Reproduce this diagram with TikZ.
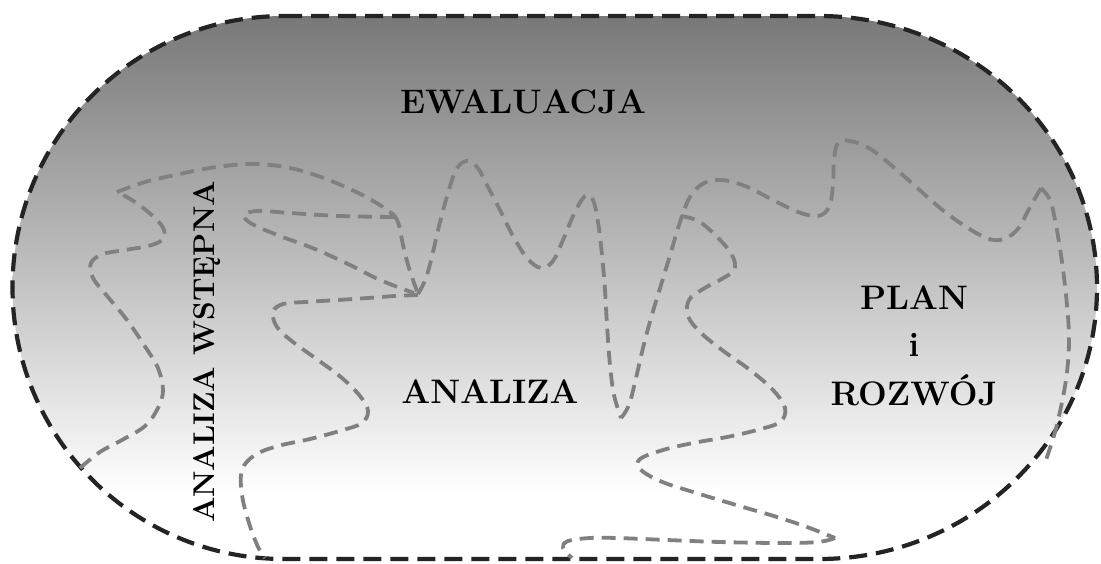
\documentclass[tikz,border=0pt]{standalone}
\usepackage{fontspec}
\definecolor{topgray}{gray}{0.47}
\definecolor{pathgray}{gray}{0.50}
\definecolor{rimcol}{gray}{0.14}
\pgfdeclareverticalshading{panel}{100bp}{color(0bp)=(white); color(31bp)=(white); color(75bp)=(topgray); color(100bp)=(topgray)}
\tikzset{
  rim/.style={draw=rimcol, line width=4.2pt, dash pattern=on 18pt off 9pt},
  trail/.style={draw=pathgray, line width=3.8pt, dash pattern=on 14pt off 8pt, line join=round},
  lbl/.style={font=\fontsize{34}{48}\selectfont\bfseries, inner sep=0pt, text=black},
  sidelbl/.style={font=\fontsize{30}{36}\selectfont\bfseries, inner sep=0pt, text=black, rotate=90},
}
\begin{document}
\begin{tikzpicture}[x=1pt, y=-1pt]
\useasboundingbox (0,0) rectangle (1101,563);

% rounded panel with vertical grey-to-white shading
\shadedraw[rim, shading=panel]
  (284,16) -- (819,16)
  arc[start angle=90, end angle=-90, x radius=278pt, y radius=271.5pt]
  -- (284,559)
  arc[start angle=270, end angle=90, radius=271.5pt] -- cycle;

% wandering dashed trails
\draw[trail] plot[smooth, tension=0.6] coordinates {(80,468) (100,452) (122,440) (145,426) (158,408) (163,390) (158,368) (146,348) (127,320) (108,297) (93,278) (91,263) (103,254) (125,250) (148,246) (162,240) (164,230) (155,218) (135,202) (117,192)};
\draw[trail] plot[smooth, tension=0.6] coordinates {(117,192) (145,182) (175,175) (210,168) (250,164) (285,167) (318,176) (350,189) (375,202) (394,215)};
\draw[trail] plot[smooth, tension=0.6] coordinates {(394,217) (340,216) (290,213) (258,211) (244,215) (252,224) (280,236) (315,249) (350,265) (380,280) (414,293)};
\draw[trail] plot[smooth, tension=0.6] coordinates {(394,215) (399,225) (403,245) (409,268) (418,294)};
\draw[trail] plot[smooth, tension=0.6] coordinates {(418,294) (426,278) (433,252) (440,222) (448,193) (456,170) (466,161) (477,167) (488,187) (500,210) (513,236) (527,258) (541,268) (553,261) (563,240) (574,214) (585,196) (593,200) (598,222) (602,255) (605,290) (607,325) (610,365) (614,395) (621,418)};
\draw[trail] plot[smooth, tension=0.6] coordinates {(621,418) (629,405) (636,378) (643,348) (651,318) (661,285) (671,252) (680,222) (690,197) (704,183) (722,180) (745,186) (773,200) (798,212) (818,216) (829,207) (833,185) (834,160) (838,143) (850,141) (872,150) (905,177) (945,212) (980,235) (1000,240) (1017,230) (1030,207) (1041,188)};
\draw[trail] plot[smooth, tension=0.6] coordinates {(1041,188) (1050,200) (1056,225) (1062,262) (1067,305) (1069,340) (1067,372) (1062,402) (1055,432) (1046,460)};
\draw[trail] plot[smooth, tension=0.6] coordinates {(418,295) (395,296) (368,298) (338,300) (305,302) (283,304) (273,312) (277,327) (293,342) (318,360) (342,378) (360,396) (368,411) (362,423) (343,430) (310,439) (278,446) (255,455) (242,470) (242,495) (249,523) (258,547) (265,558)};
\draw[trail] plot[smooth, tension=0.6] coordinates {(681,216) (700,222) (722,242) (733,257) (734,270) (720,280) (703,289) (689,300) (688,316) (700,332) (722,350) (750,370) (773,390) (785,408) (780,422) (757,430) (727,437) (693,443) (663,450) (640,459) (640,469) (660,481) (693,492) (743,507) (777,517) (807,527) (835,538)};
\draw[trail] plot[smooth, tension=0.6] coordinates {(835,538) (818,542) (780,543) (720,542) (667,540) (617,538) (590,538) (568,541) (563,548) (572,558)};

% labels
\node[lbl, anchor=base] (ewaluacja) at (523,113) {EWALUACJA};
\node[lbl, anchor=base] (analiza) at (490,403) {ANALIZA};
\node[sidelbl] (wstepna) at (207,352) {ANALIZA WSTĘPNA};
\node[lbl, anchor=base] (plan) at (914,309) {PLAN};
\node[lbl, anchor=base] (spojnik) at (914,356) {i};
\node[lbl, anchor=base] (rozwoj) at (914,405) {ROZWÓJ};
\end{tikzpicture}
\end{document}
